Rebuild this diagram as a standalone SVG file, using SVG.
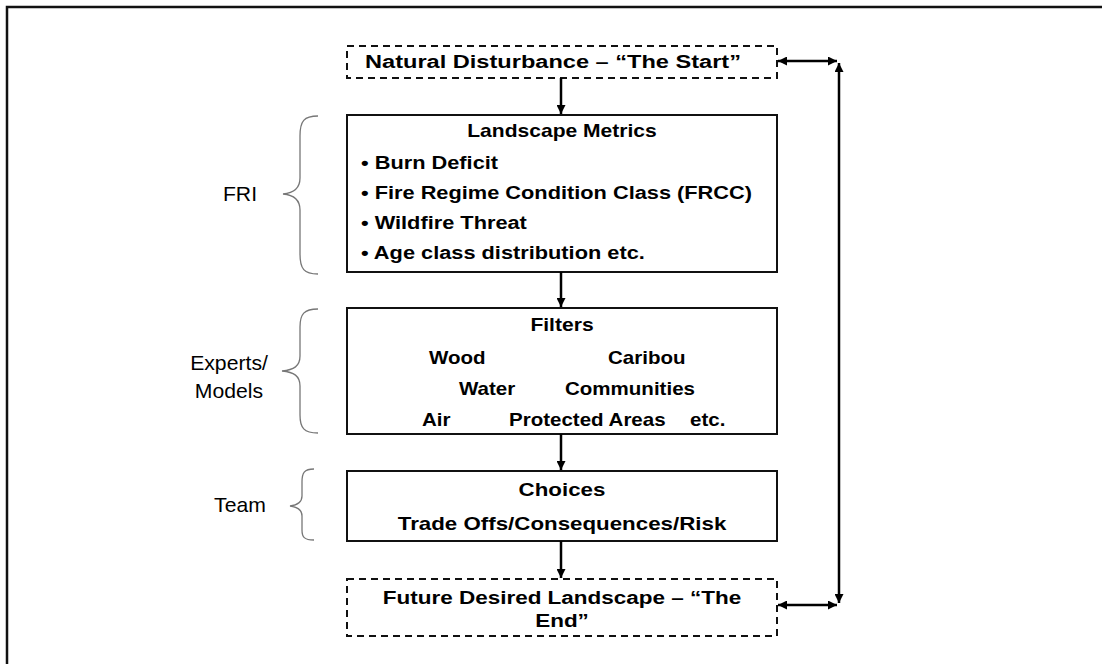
<svg xmlns="http://www.w3.org/2000/svg" width="1102" height="664" viewBox="0 0 1102 664">
  <defs>
    <marker id="ah" viewBox="0 0 10 10" refX="10" refY="5" markerWidth="9" markerHeight="9" markerUnits="userSpaceOnUse" orient="auto-start-reverse">
      <path d="M0,0 L10,5 L0,10 z" fill="#000"/>
    </marker>
    <style>
      .box { fill: #fff; stroke: #111; stroke-width: 2; }
      .dash { fill: #fff; stroke: #111; stroke-width: 2; stroke-dasharray: 7 5; }
      .t { font-family: "Liberation Sans", Arial, sans-serif; font-weight: bold; font-size: 18px; fill: #000; }
      .c { text-anchor: middle; }
      .lbl { font-family: "Liberation Sans", Arial, sans-serif; font-size: 20px; fill: #000; text-anchor: middle; }
      .brace { fill: none; stroke: #777; stroke-width: 1.3; }
      .conn { fill: none; stroke: #000; stroke-width: 2.5; }
    </style>
  </defs>
  <rect width="1102" height="664" fill="#fff"/>
  <!-- page frame, top and left edges -->
  <path d="M7,664 V7 H1102" fill="none" stroke="#111" stroke-width="2.5"/>

  <g id="start">
    <rect class="dash" x="347" y="46" width="430" height="32"/>
    <text class="t c" font-size="19" transform="translate(553 68) scale(1.31 1)">Natural Disturbance – “The Start”</text>
  </g>

  <g id="metrics">
    <rect class="box" x="347" y="115" width="430" height="157"/>
    <text class="t c" transform="translate(562 137) scale(1.17 1)">Landscape Metrics</text>
    <text class="t" transform="translate(361 169) scale(1.21 1)">• Burn Deficit</text>
    <text class="t" transform="translate(361 199) scale(1.21 1)">• Fire Regime Condition Class (FRCC)</text>
    <text class="t" transform="translate(361 229) scale(1.21 1)">• Wildfire Threat</text>
    <text class="t" transform="translate(361 259) scale(1.21 1)">• Age class distribution etc.</text>
  </g>

  <g id="filters">
    <rect class="box" x="347" y="308" width="430" height="126"/>
    <text class="t c" transform="translate(562 331) scale(1.17 1)">Filters</text>
    <text class="t" transform="translate(429 364) scale(1.14 1)">Wood</text>
    <text class="t" transform="translate(608 364) scale(1.14 1)">Caribou</text>
    <text class="t" transform="translate(459 395) scale(1.14 1)">Water</text>
    <text class="t" transform="translate(565 395) scale(1.14 1)">Communities</text>
    <text class="t" transform="translate(422 426) scale(1.14 1)">Air</text>
    <text class="t" transform="translate(509 426) scale(1.14 1)">Protected Areas</text>
    <text class="t" transform="translate(690 426) scale(1.14 1)">etc.</text>
  </g>

  <g id="choices">
    <rect class="box" x="347" y="471" width="430" height="70"/>
    <text class="t c" transform="translate(562 496) scale(1.24 1)">Choices</text>
    <text class="t c" transform="translate(562 530) scale(1.24 1)">Trade Offs/Consequences/Risk</text>
  </g>

  <g id="end">
    <rect class="dash" x="347" y="579" width="430" height="57"/>
    <text class="t c" transform="translate(562 604) scale(1.25 1)">Future Desired Landscape – “The</text>
    <text class="t c" transform="translate(562 627) scale(1.25 1)">End”</text>
  </g>

  <g id="fri">
    <text class="lbl" transform="translate(240 201) scale(1.06 1)">FRI</text>
    <path class="brace" d="M318,116 C304,116 300,121 300,136 V178 C300,188 294,193 283,194 C294,195 300,200 300,210 V254 C300,269 304,274 318,274"/>
  </g>

  <g id="experts">
    <text class="lbl" transform="translate(229 370) scale(1.06 1)">Experts/</text>
    <text class="lbl" transform="translate(229 398) scale(1.06 1)">Models</text>
    <path class="brace" d="M318,309 C304,309 300,314 300,327 V356 C300,366 294,370 282,371 C294,372 300,376 300,386 V415 C300,428 304,433 318,433"/>
  </g>

  <g id="team">
    <text class="lbl" transform="translate(240 512) scale(1.06 1)">Team</text>
    <path class="brace" d="M314,469 C304,469 302,473 302,482 V496 C302,502 298,505 290,506 C298,507 302,510 302,516 V530 C302,537 304,540 314,540"/>
  </g>

  <g id="connectors">
    <line class="conn" x1="561" y1="78" x2="561" y2="114" marker-end="url(#ah)"/>
    <line class="conn" x1="561" y1="272" x2="561" y2="307" marker-end="url(#ah)"/>
    <line class="conn" x1="561" y1="434" x2="561" y2="470" marker-end="url(#ah)"/>
    <line class="conn" x1="561" y1="541" x2="561" y2="578" marker-end="url(#ah)"/>
    <line class="conn" x1="778" y1="61" x2="837" y2="61" marker-start="url(#ah)" marker-end="url(#ah)"/>
    <line class="conn" x1="778" y1="605" x2="837" y2="605" marker-start="url(#ah)" marker-end="url(#ah)"/>
    <line class="conn" x1="839" y1="603" x2="839" y2="63" marker-start="url(#ah)" marker-end="url(#ah)"/>
  </g>
</svg>
